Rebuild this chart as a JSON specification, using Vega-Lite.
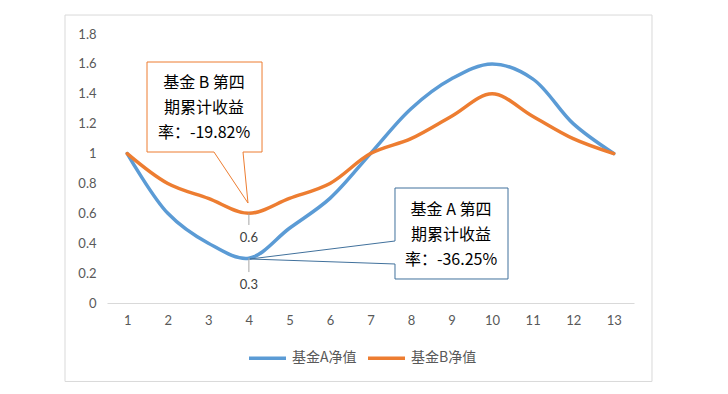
{
  "$schema": "https://vega.github.io/schema/vega-lite/v6.json",
  "width": 527,
  "height": 269,
  "autosize": {"type": "none"},
  "padding": {"left": 107, "top": 34, "right": 94, "bottom": 91},
  "background": "white",
  "config": {
    "view": {"stroke": null},
    "font": "Noto Sans CJK SC",
    "axis": {"labelOverlap": false, "labelFlush": false, "labelBound": false}
  },
  "datasets": {
    "series": [
      {"x": 1, "v": 1.0, "s": "基金A净值"},
      {"x": 2, "v": 0.6, "s": "基金A净值"},
      {"x": 3, "v": 0.4, "s": "基金A净值"},
      {"x": 4, "v": 0.3, "s": "基金A净值"},
      {"x": 5, "v": 0.5, "s": "基金A净值"},
      {"x": 6, "v": 0.7, "s": "基金A净值"},
      {"x": 7, "v": 1.0, "s": "基金A净值"},
      {"x": 8, "v": 1.3, "s": "基金A净值"},
      {"x": 9, "v": 1.5, "s": "基金A净值"},
      {"x": 10, "v": 1.6, "s": "基金A净值"},
      {"x": 11, "v": 1.5, "s": "基金A净值"},
      {"x": 12, "v": 1.2, "s": "基金A净值"},
      {"x": 13, "v": 1.0, "s": "基金A净值"},
      {"x": 1, "v": 1.0, "s": "基金B净值"},
      {"x": 2, "v": 0.8, "s": "基金B净值"},
      {"x": 3, "v": 0.7, "s": "基金B净值"},
      {"x": 4, "v": 0.6, "s": "基金B净值"},
      {"x": 5, "v": 0.7, "s": "基金B净值"},
      {"x": 6, "v": 0.8, "s": "基金B净值"},
      {"x": 7, "v": 1.0, "s": "基金B净值"},
      {"x": 8, "v": 1.1, "s": "基金B净值"},
      {"x": 9, "v": 1.25, "s": "基金B净值"},
      {"x": 10, "v": 1.4, "s": "基金B净值"},
      {"x": 11, "v": 1.25, "s": "基金B净值"},
      {"x": 12, "v": 1.1, "s": "基金B净值"},
      {"x": 13, "v": 1.0, "s": "基金B净值"}
    ],
    "calloutB": [
      {"i": 1, "x": 3.139, "y": 1.0104},
      {"i": 2, "x": 1.487, "y": 1.0104},
      {"i": 3, "x": 1.487, "y": 1.6126},
      {"i": 4, "x": 4.324, "y": 1.6126},
      {"i": 5, "x": 4.324, "y": 1.0104},
      {"i": 6, "x": 3.855, "y": 1.0104},
      {"i": 7, "x": 3.978, "y": 0.669},
      {"i": 8, "x": 3.139, "y": 1.0104}
    ],
    "calloutA": [
      {"i": 1, "x": 7.604, "y": 0.4148},
      {"i": 2, "x": 7.604, "y": 0.7695},
      {"i": 3, "x": 10.392, "y": 0.7695},
      {"i": 4, "x": 10.392, "y": 0.1606},
      {"i": 5, "x": 7.604, "y": 0.1606},
      {"i": 6, "x": 7.604, "y": 0.261},
      {"i": 7, "x": 4.028, "y": 0.2944},
      {"i": 8, "x": 7.604, "y": 0.4148}
    ],
    "texts": [
      {"x": 2.893, "y": 1.472, "t": "基金 B 第四"},
      {"x": 2.893, "y": 1.305, "t": "期累计收益"},
      {"x": 2.893, "y": 1.1375, "t": "率：-19.82%"},
      {"x": 8.986, "y": 0.6223, "t": "基金 A 第四"},
      {"x": 8.986, "y": 0.455, "t": "期累计收益"},
      {"x": 8.986, "y": 0.2877, "t": "率：-36.25%"}
    ],
    "leaders": [
      {"x": 4, "y": 0.6, "y2": 0.522, "ly": 0.435, "t": "0.6"},
      {"x": 4, "y": 0.3, "y2": 0.207, "ly": 0.12, "t": "0.3"}
    ],
    "frame": [
      {"x": -0.536, "x2": 13.944, "y": -0.525, "y2": 1.927}
    ]
  },
  "encoding": {
    "x": {"type": "quantitative", "scale": {"domain": [0.5, 13.5], "nice": false, "zero": false},
      "axis": {"values": [1,2,3,4,5,6,7,8,9,10,11,12,13], "format": "d", "title": null, "grid": false, "ticks": false,
        "labelOverlap": false, "domainColor": "#d9d9d9", "domainWidth": 1, "labelFont": "Lato", "labelFontSize": 13, "labelColor": "#595959", "labelPadding": 11}},
    "y": {"type": "quantitative", "scale": {"domain": [0, 1.8], "nice": false, "zero": false},
      "axis": {"values": [0,0.2,0.4,0.6,0.8,1,1.2,1.4,1.6,1.8], "format": "~g", "title": null, "grid": false, "ticks": false,
        "labelOverlap": false, "domain": false, "labelFont": "Lato", "labelFontSize": 13, "labelColor": "#595959", "labelPadding": 11}}
  },
  "layer": [
    {
      "data": {"name": "frame"},
      "mark": {"type": "rect", "fill": null, "stroke": "#d9d9d9", "strokeWidth": 1},
      "encoding": {
        "x": {"field": "x"},
        "x2": {"field": "x2"},
        "y": {"field": "y"},
        "y2": {"field": "y2"}
      }
    },
    {
      "data": {"name": "series"},
      "mark": {"type": "line", "interpolate": "catmull-rom", "strokeWidth": 3.5, "strokeCap": "round"},
      "encoding": {
        "x": {"field": "x"},
        "y": {"field": "v"},
        "color": {"field": "s", "type": "nominal",
          "scale": {"domain": ["基金A净值", "基金B净值"], "range": ["#5B9BD5", "#ED7D31"]},
          "legend": {"title": null, "orient": "none", "direction": "horizontal", "legendX": 140, "legendY": 303.5,
            "symbolType": "stroke", "symbolSize": 1369, "symbolStrokeWidth": 3.5, "labelFont": "Noto Sans CJK SC",
            "labelFontSize": 14, "labelColor": "#595959", "labelOffset": 4, "columnPadding": 4}}
      }
    },
    {
      "data": {"name": "calloutB"},
      "mark": {"type": "line", "stroke": "#ED7D31", "strokeWidth": 1},
      "encoding": {
        "x": {"field": "x"},
        "y": {"field": "y"},
        "order": {"field": "i", "type": "quantitative"}
      }
    },
    {
      "data": {"name": "calloutA"},
      "mark": {"type": "line", "stroke": "#41719C", "strokeWidth": 1},
      "encoding": {
        "x": {"field": "x"},
        "y": {"field": "y"},
        "order": {"field": "i", "type": "quantitative"}
      }
    },
    {
      "data": {"name": "texts"},
      "mark": {"type": "text", "font": "Noto Sans CJK SC", "fontSize": 16, "color": "#000000", "align": "center", "baseline": "middle"},
      "encoding": {
        "x": {"field": "x"},
        "y": {"field": "y"},
        "text": {"field": "t"}
      }
    },
    {
      "data": {"name": "leaders"},
      "mark": {"type": "rule", "stroke": "#a6a6a6", "strokeWidth": 1},
      "encoding": {
        "x": {"field": "x"},
        "y": {"field": "y"},
        "y2": {"field": "y2"}
      }
    },
    {
      "data": {"name": "leaders"},
      "mark": {"type": "text", "font": "Lato", "fontSize": 13, "color": "#404040", "align": "center", "baseline": "middle"},
      "encoding": {
        "x": {"field": "x"},
        "y": {"field": "ly"},
        "text": {"field": "t"}
      }
    }
  ]
}
